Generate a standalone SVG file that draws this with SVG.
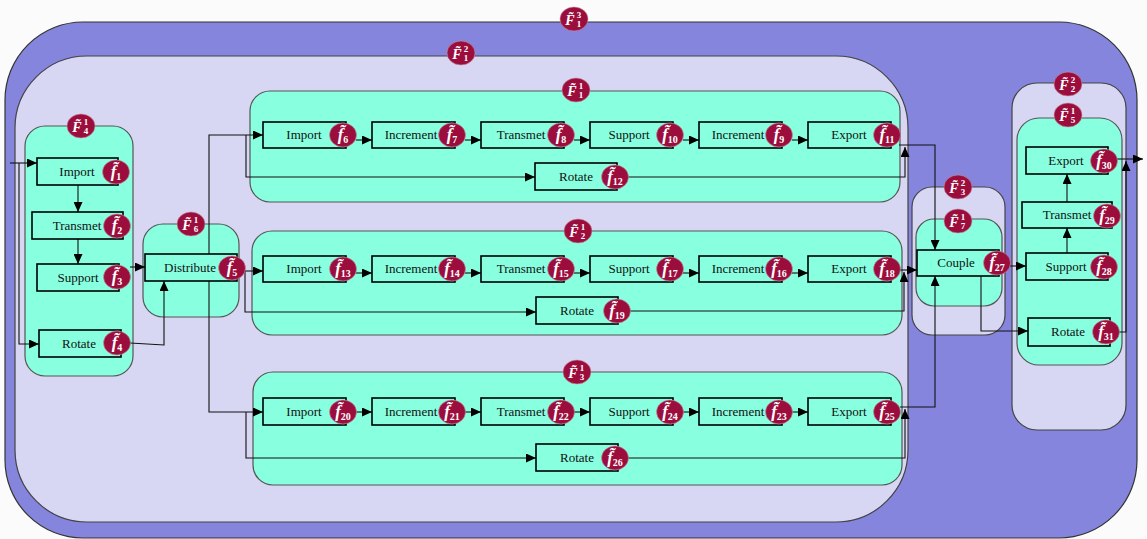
<svg xmlns="http://www.w3.org/2000/svg" width="1147" height="539" viewBox="0 0 1147 539">
<style>
.bg{fill:#fbfbfb}
.outer{fill:#8585dd;stroke:#333;stroke-width:1.2}
.lav{fill:#d7d7f4;stroke:#444;stroke-width:1.2}
.mint{fill:#88ffdf;stroke:#555;stroke-width:1.2}
.nr{fill:#88ffdf;stroke:#000;stroke-width:1.6}
.nt{font-family:"Liberation Serif",serif;font-size:13px;fill:#111;text-anchor:middle}
.bd{fill:#9b0d3d;stroke:#c7909f;stroke-width:0.6}
.bt{font-family:"Liberation Serif",serif;font-weight:bold;font-style:italic;fill:#fff;text-anchor:middle}
.bs{font-size:10px;font-style:normal}
.cs{font-size:9px;font-style:normal}
#connectors path{fill:none;stroke:#111;stroke-width:1.1;marker-end:url(#ah)}
</style>
<defs>
<marker id="ah" viewBox="0 0 10 9" refX="10" refY="4.5" markerWidth="10" markerHeight="9" markerUnits="userSpaceOnUse" orient="auto"><path d="M0,0 L10,4.5 L0,9 z" fill="#000"/></marker>
</defs>
<rect class="bg" x="0" y="0" width="1147" height="539"/>

<g id="F3_1"><rect class="outer" x="5" y="22" width="1132" height="516" rx="78"/>
<ellipse class="bd" cx="574" cy="19" rx="14" ry="12"/><text class="bt"><tspan x="570" y="25" font-size="14">F̃</tspan><tspan class="cs" x="579" y="18">3</tspan><tspan class="cs" x="579" y="27">1</tspan></text></g>

<g id="F2_1"><rect class="lav" x="15" y="56" width="893" height="466" rx="72"/>
<ellipse class="bd" cx="461" cy="53" rx="14" ry="12"/><text class="bt"><tspan x="457" y="59" font-size="14">F̃</tspan><tspan class="cs" x="466" y="52">2</tspan><tspan class="cs" x="466" y="61">1</tspan></text></g>

<g id="F1_4"><rect class="mint" x="25" y="126" width="108" height="250" rx="20"/>
<ellipse class="bd" cx="81" cy="126" rx="14" ry="12"/><text class="bt"><tspan x="77" y="132" font-size="14">F̃</tspan><tspan class="cs" x="86" y="125">1</tspan><tspan class="cs" x="86" y="134">4</tspan></text></g>

<g id="F1_6"><rect class="mint" x="143" y="224" width="96" height="93" rx="20"/>
<ellipse class="bd" cx="191" cy="224" rx="14" ry="12"/><text class="bt"><tspan x="187" y="230" font-size="14">F̃</tspan><tspan class="cs" x="196" y="223">1</tspan><tspan class="cs" x="196" y="232">6</tspan></text></g>

<g id="F1_1"><rect class="mint" x="250" y="91" width="650" height="111" rx="20"/>
<ellipse class="bd" cx="576" cy="90" rx="14" ry="12"/><text class="bt"><tspan x="572" y="96" font-size="14">F̃</tspan><tspan class="cs" x="581" y="89">1</tspan><tspan class="cs" x="581" y="98">1</tspan></text></g>

<g id="F1_2"><rect class="mint" x="252" y="231" width="650" height="104" rx="20"/>
<ellipse class="bd" cx="578" cy="231" rx="14" ry="12"/><text class="bt"><tspan x="574" y="237" font-size="14">F̃</tspan><tspan class="cs" x="583" y="230">1</tspan><tspan class="cs" x="583" y="239">2</tspan></text></g>

<g id="F1_3"><rect class="mint" x="253" y="372" width="649" height="113" rx="20"/>
<ellipse class="bd" cx="577" cy="372" rx="14" ry="12"/><text class="bt"><tspan x="573" y="378" font-size="14">F̃</tspan><tspan class="cs" x="582" y="371">1</tspan><tspan class="cs" x="582" y="380">3</tspan></text></g>

<g id="F2_3"><rect class="lav" x="912" y="187" width="93" height="148" rx="20"/>
<ellipse class="bd" cx="958" cy="187" rx="14" ry="12"/><text class="bt"><tspan x="954" y="193" font-size="14">F̃</tspan><tspan class="cs" x="963" y="186">2</tspan><tspan class="cs" x="963" y="195">3</tspan></text></g>

<g id="F1_7"><rect class="mint" x="916" y="219" width="86" height="87" rx="18"/>
<ellipse class="bd" cx="958" cy="221" rx="14" ry="12"/><text class="bt"><tspan x="954" y="227" font-size="14">F̃</tspan><tspan class="cs" x="963" y="220">1</tspan><tspan class="cs" x="963" y="229">7</tspan></text></g>

<g id="F2_2"><rect class="lav" x="1012" y="83" width="114" height="347" rx="25"/>
<ellipse class="bd" cx="1068" cy="84" rx="14" ry="12"/><text class="bt"><tspan x="1064" y="90" font-size="14">F̃</tspan><tspan class="cs" x="1073" y="83">2</tspan><tspan class="cs" x="1073" y="92">2</tspan></text></g>

<g id="F1_5"><rect class="mint" x="1017" y="118" width="105" height="247" rx="22"/>
<ellipse class="bd" cx="1068" cy="115" rx="14" ry="12"/><text class="bt"><tspan x="1064" y="121" font-size="14">F̃</tspan><tspan class="cs" x="1073" y="114">1</tspan><tspan class="cs" x="1073" y="123">5</tspan></text></g>

<g id="connectors">
<path d="M10,163 H37"/>
<path d="M19,163 V344 H39"/>
<path d="M78,185 V212"/>
<path d="M78,239 V264"/>
<path d="M130,267 H145"/>
<path d="M130,343 L164,345 V281"/>
<path d="M245,271 H263"/>
<path d="M245,271 V312 H536"/>
<path d="M209,274 V135 H263"/>
<path d="M209,274 V412 H263"/>
<path d="M246,135 V177 H535"/>
<path d="M246,412 V458 H536"/>
<path d="M356,140 H372"/><path d="M465,140 H481"/><path d="M574,140 H590"/><path d="M683,140 H699"/><path d="M792,140 H808"/>
<path d="M356,273 H372"/><path d="M465,273 H481"/><path d="M574,273 H590"/><path d="M683,273 H699"/><path d="M792,273 H808"/>
<path d="M356,412 H372"/><path d="M465,412 H481"/><path d="M574,412 H590"/><path d="M683,412 H699"/><path d="M792,412 H808"/>
<path d="M899,145 H935 V250"/>
<path d="M628,177 H905 V147"/>
<path d="M900,270 H917"/>
<path d="M630,311 H904 V272"/>
<path d="M900,407 H935 V276"/>
<path d="M628,458 H905 V409"/>
<path d="M1010,266 H1026"/>
<path d="M981,276 V331 H1028"/>
<path d="M1067,253 V228"/>
<path d="M1067,202 V174"/>
<path d="M1117,159 H1143"/>
<path d="M1119,332 H1126 V161"/>
</g>

<g id="n1"><rect class="nr" x="37" y="158" width="81" height="27"/><text class="nt" x="77" y="176">Import</text><ellipse class="bd" cx="116" cy="172" rx="13.5" ry="12"/><text class="bt" x="116" y="177"><tspan font-size="17">f̃</tspan><tspan class="bs" dy="3">1</tspan></text></g>
<g id="n2"><rect class="nr" x="32" y="212" width="91" height="27"/><text class="nt" x="77" y="230">Transmet</text><ellipse class="bd" cx="117" cy="226" rx="13.5" ry="12"/><text class="bt" x="117" y="231"><tspan font-size="17">f̃</tspan><tspan class="bs" dy="3">2</tspan></text></g>
<g id="n3"><rect class="nr" x="37" y="264" width="82" height="27"/><text class="nt" x="78" y="282">Support</text><ellipse class="bd" cx="117" cy="277" rx="13.5" ry="12"/><text class="bt" x="117" y="282"><tspan font-size="17">f̃</tspan><tspan class="bs" dy="3">3</tspan></text></g>
<g id="n4"><rect class="nr" x="39" y="330" width="82" height="27"/><text class="nt" x="79" y="348">Rotate</text><ellipse class="bd" cx="117" cy="343" rx="13.5" ry="12"/><text class="bt" x="117" y="348"><tspan font-size="17">f̃</tspan><tspan class="bs" dy="3">4</tspan></text></g>
<g id="n5"><rect class="nr" x="145" y="254" width="92" height="27"/><text class="nt" x="190" y="272">Distribute</text><ellipse class="bd" cx="232" cy="268" rx="13.5" ry="12"/><text class="bt" x="232" y="273"><tspan font-size="17">f̃</tspan><tspan class="bs" dy="3">5</tspan></text></g>

<g id="n6"><rect class="nr" x="263" y="122" width="83" height="26"/><text class="nt" x="304" y="139">Import</text><ellipse class="bd" cx="343" cy="135" rx="13.5" ry="12"/><text class="bt" x="343" y="140"><tspan font-size="17">f̃</tspan><tspan class="bs" dy="3">6</tspan></text></g>
<g id="n7"><rect class="nr" x="372" y="122" width="83" height="26"/><text class="nt" x="411" y="139">Increment</text><ellipse class="bd" cx="452" cy="135" rx="13.5" ry="12"/><text class="bt" x="452" y="140"><tspan font-size="17">f̃</tspan><tspan class="bs" dy="3">7</tspan></text></g>
<g id="n8"><rect class="nr" x="481" y="122" width="83" height="26"/><text class="nt" x="521" y="139">Transmet</text><ellipse class="bd" cx="561" cy="135" rx="13.5" ry="12"/><text class="bt" x="561" y="140"><tspan font-size="17">f̃</tspan><tspan class="bs" dy="3">8</tspan></text></g>
<g id="n10"><rect class="nr" x="590" y="122" width="83" height="26"/><text class="nt" x="629" y="139">Support</text><ellipse class="bd" cx="670" cy="135" rx="13.5" ry="12"/><text class="bt" x="670" y="140"><tspan font-size="17">f̃</tspan><tspan class="bs" dy="3">10</tspan></text></g>
<g id="n9"><rect class="nr" x="699" y="122" width="83" height="26"/><text class="nt" x="738" y="139">Increment</text><ellipse class="bd" cx="779" cy="135" rx="13.5" ry="12"/><text class="bt" x="779" y="140"><tspan font-size="17">f̃</tspan><tspan class="bs" dy="3">9</tspan></text></g>
<g id="n11"><rect class="nr" x="808" y="122" width="83" height="26"/><text class="nt" x="849" y="139">Export</text><ellipse class="bd" cx="887" cy="135" rx="13.5" ry="12"/><text class="bt" x="887" y="140"><tspan font-size="17">f̃</tspan><tspan class="bs" dy="3">11</tspan></text></g>
<g id="n12"><rect class="nr" x="535" y="163" width="82" height="27"/><text class="nt" x="576" y="181">Rotate</text><ellipse class="bd" cx="615" cy="177" rx="13.5" ry="12"/><text class="bt" x="615" y="182"><tspan font-size="17">f̃</tspan><tspan class="bs" dy="3">12</tspan></text></g>

<g id="n13"><rect class="nr" x="263" y="256" width="83" height="26"/><text class="nt" x="304" y="273">Import</text><ellipse class="bd" cx="343" cy="269" rx="13.5" ry="12"/><text class="bt" x="343" y="274"><tspan font-size="17">f̃</tspan><tspan class="bs" dy="3">13</tspan></text></g>
<g id="n14"><rect class="nr" x="372" y="256" width="83" height="26"/><text class="nt" x="411" y="273">Increment</text><ellipse class="bd" cx="452" cy="269" rx="13.5" ry="12"/><text class="bt" x="452" y="274"><tspan font-size="17">f̃</tspan><tspan class="bs" dy="3">14</tspan></text></g>
<g id="n15"><rect class="nr" x="481" y="256" width="83" height="26"/><text class="nt" x="521" y="273">Transmet</text><ellipse class="bd" cx="561" cy="269" rx="13.5" ry="12"/><text class="bt" x="561" y="274"><tspan font-size="17">f̃</tspan><tspan class="bs" dy="3">15</tspan></text></g>
<g id="n17"><rect class="nr" x="590" y="256" width="83" height="26"/><text class="nt" x="629" y="273">Support</text><ellipse class="bd" cx="670" cy="269" rx="13.5" ry="12"/><text class="bt" x="670" y="274"><tspan font-size="17">f̃</tspan><tspan class="bs" dy="3">17</tspan></text></g>
<g id="n16"><rect class="nr" x="699" y="256" width="83" height="26"/><text class="nt" x="738" y="273">Increment</text><ellipse class="bd" cx="779" cy="269" rx="13.5" ry="12"/><text class="bt" x="779" y="274"><tspan font-size="17">f̃</tspan><tspan class="bs" dy="3">16</tspan></text></g>
<g id="n18"><rect class="nr" x="808" y="256" width="83" height="26"/><text class="nt" x="849" y="273">Export</text><ellipse class="bd" cx="887" cy="269" rx="13.5" ry="12"/><text class="bt" x="887" y="274"><tspan font-size="17">f̃</tspan><tspan class="bs" dy="3">18</tspan></text></g>
<g id="n19"><rect class="nr" x="536" y="297" width="82" height="27"/><text class="nt" x="577" y="315">Rotate</text><ellipse class="bd" cx="617" cy="311" rx="13.5" ry="12"/><text class="bt" x="617" y="316"><tspan font-size="17">f̃</tspan><tspan class="bs" dy="3">19</tspan></text></g>

<g id="n20"><rect class="nr" x="263" y="398" width="83" height="27"/><text class="nt" x="304" y="416">Import</text><ellipse class="bd" cx="343" cy="412" rx="13.5" ry="12"/><text class="bt" x="343" y="417"><tspan font-size="17">f̃</tspan><tspan class="bs" dy="3">20</tspan></text></g>
<g id="n21"><rect class="nr" x="372" y="398" width="83" height="27"/><text class="nt" x="411" y="416">Increment</text><ellipse class="bd" cx="452" cy="412" rx="13.5" ry="12"/><text class="bt" x="452" y="417"><tspan font-size="17">f̃</tspan><tspan class="bs" dy="3">21</tspan></text></g>
<g id="n22"><rect class="nr" x="481" y="398" width="83" height="27"/><text class="nt" x="521" y="416">Transmet</text><ellipse class="bd" cx="561" cy="412" rx="13.5" ry="12"/><text class="bt" x="561" y="417"><tspan font-size="17">f̃</tspan><tspan class="bs" dy="3">22</tspan></text></g>
<g id="n24"><rect class="nr" x="590" y="398" width="83" height="27"/><text class="nt" x="629" y="416">Support</text><ellipse class="bd" cx="670" cy="412" rx="13.5" ry="12"/><text class="bt" x="670" y="417"><tspan font-size="17">f̃</tspan><tspan class="bs" dy="3">24</tspan></text></g>
<g id="n23"><rect class="nr" x="699" y="398" width="83" height="27"/><text class="nt" x="738" y="416">Increment</text><ellipse class="bd" cx="779" cy="412" rx="13.5" ry="12"/><text class="bt" x="779" y="417"><tspan font-size="17">f̃</tspan><tspan class="bs" dy="3">23</tspan></text></g>
<g id="n25"><rect class="nr" x="808" y="398" width="83" height="27"/><text class="nt" x="849" y="416">Export</text><ellipse class="bd" cx="887" cy="412" rx="13.5" ry="12"/><text class="bt" x="887" y="417"><tspan font-size="17">f̃</tspan><tspan class="bs" dy="3">25</tspan></text></g>
<g id="n26"><rect class="nr" x="536" y="444" width="82" height="27"/><text class="nt" x="577" y="462">Rotate</text><ellipse class="bd" cx="615" cy="458" rx="13.5" ry="12"/><text class="bt" x="615" y="463"><tspan font-size="17">f̃</tspan><tspan class="bs" dy="3">26</tspan></text></g>

<g id="n27"><rect class="nr" x="917" y="250" width="82" height="26"/><text class="nt" x="956" y="267">Couple</text><ellipse class="bd" cx="997" cy="263" rx="13.5" ry="12"/><text class="bt" x="997" y="268"><tspan font-size="17">f̃</tspan><tspan class="bs" dy="3">27</tspan></text></g>
<g id="n30"><rect class="nr" x="1026" y="147" width="82" height="27"/><text class="nt" x="1066" y="165">Export</text><ellipse class="bd" cx="1104" cy="161" rx="13.5" ry="12"/><text class="bt" x="1104" y="166"><tspan font-size="17">f̃</tspan><tspan class="bs" dy="3">30</tspan></text></g>
<g id="n29"><rect class="nr" x="1022" y="202" width="90" height="26"/><text class="nt" x="1067" y="219">Transmet</text><ellipse class="bd" cx="1107" cy="216" rx="13.5" ry="12"/><text class="bt" x="1107" y="221"><tspan font-size="17">f̃</tspan><tspan class="bs" dy="3">29</tspan></text></g>
<g id="n28"><rect class="nr" x="1026" y="253" width="82" height="27"/><text class="nt" x="1066" y="271">Support</text><ellipse class="bd" cx="1104" cy="267" rx="13.5" ry="12"/><text class="bt" x="1104" y="272"><tspan font-size="17">f̃</tspan><tspan class="bs" dy="3">28</tspan></text></g>
<g id="n31"><rect class="nr" x="1028" y="318" width="82" height="28"/><text class="nt" x="1068" y="336">Rotate</text><ellipse class="bd" cx="1106" cy="332" rx="13.5" ry="12"/><text class="bt" x="1106" y="337"><tspan font-size="17">f̃</tspan><tspan class="bs" dy="3">31</tspan></text></g>
</svg>
